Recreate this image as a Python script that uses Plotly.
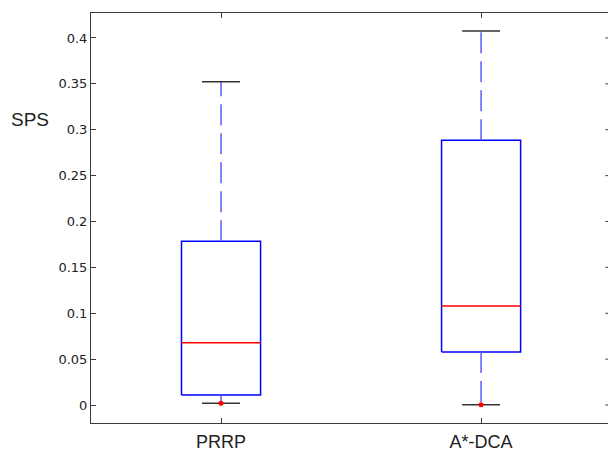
import plotly.graph_objects as go

# ---- data ----
categories = ["PRRP", "A*-DCA"]
positions = [1, 2]
lower_whisker = [0.0018, 0.0003]
q1 = [0.0109, 0.0578]
median = [0.0679, 0.1079]
q3 = [0.1784, 0.2885]
upper_whisker = [0.3524, 0.4076]
outliers = [[0.0018], [0.0003]]

y_tickvals = [0, 0.05, 0.1, 0.15, 0.2, 0.25, 0.3, 0.35, 0.4]
y_ticktext = ["0", "0.05", "0.1", "0.15", "0.2", "0.25", "0.3", "0.35", "0.4"]

# ---- styles ----
BOX_HW = 0.152
CAP_HW = 0.073
AX_COL = "#3a3a3a"

fig = go.Figure()

for i, x in enumerate(positions):
    # box
    fig.add_trace(go.Scatter(
        x=[x - BOX_HW, x + BOX_HW, x + BOX_HW, x - BOX_HW, x - BOX_HW],
        y=[q1[i], q1[i], q3[i], q3[i], q1[i]],
        mode="lines", line=dict(color="#0000ff", width=1.5),
        hoverinfo="skip", showlegend=False))
    # median
    fig.add_trace(go.Scatter(
        x=[x - BOX_HW, x + BOX_HW], y=[median[i], median[i]],
        mode="lines", line=dict(color="#ff0000", width=1.5),
        hoverinfo="skip", showlegend=False))
    # whiskers (from box outward)
    fig.add_trace(go.Scatter(
        x=[x, x], y=[q3[i], upper_whisker[i]],
        mode="lines", line=dict(color="#5a5aff", width=1.5, dash="21px,8px"),
        hoverinfo="skip", showlegend=False))
    fig.add_trace(go.Scatter(
        x=[x, x], y=[q1[i], lower_whisker[i]],
        mode="lines", line=dict(color="#5a5aff", width=1.5, dash="21px,8px"),
        hoverinfo="skip", showlegend=False))
    # caps
    for v in (upper_whisker[i], lower_whisker[i]):
        fig.add_trace(go.Scatter(
            x=[x - CAP_HW, x + CAP_HW], y=[v, v],
            mode="lines", line=dict(color="#333333", width=1.5),
            hoverinfo="skip", showlegend=False))
    # outliers
    fig.add_trace(go.Scatter(
        x=[x] * len(outliers[i]), y=outliers[i],
        mode="markers", marker=dict(color="#ff0000", size=5),
        hoverinfo="skip", showlegend=False))

# right-side tick stubs (frame is cropped off in the reference)
for v in y_tickvals:
    fig.add_shape(type="line", xref="paper", yref="y",
                  x0=0.995, x1=1.0, y0=v, y1=v,
                  line=dict(color=AX_COL, width=1))

fig.add_annotation(text="SPS", xref="paper", yref="paper",
                   x=-0.118, y=0.741, xanchor="center", yanchor="middle",
                   showarrow=False,
                   font=dict(family="Liberation Sans", size=19, color="#222222"))

fig.update_layout(
    width=608, height=452,
    margin=dict(l=91, r=0, t=13, b=29, autoexpand=False),
    paper_bgcolor="white", plot_bgcolor="white",
    font=dict(family="Liberation Sans", size=13, color="#222222"),
    showlegend=False,
)
fig.update_xaxes(
    range=[0.5, 2.488], tickvals=positions, ticktext=categories,
    showgrid=False, zeroline=False, automargin=False,
    showline=True, linecolor=AX_COL, linewidth=1, mirror="ticks",
    ticks="inside", ticklen=5, tickcolor=AX_COL, tickwidth=1,
    tickfont=dict(family="Liberation Sans", size=18),
    ticklabelstandoff=2,
)
fig.update_yaxes(
    range=[-0.0196, 0.4272], tickvals=y_tickvals, ticktext=y_ticktext,
    showgrid=False, zeroline=False, automargin=False,
    showline=True, linecolor=AX_COL, linewidth=1, mirror=False,
    ticks="inside", ticklen=5, tickcolor=AX_COL, tickwidth=1,
    tickfont=dict(family="DejaVu Sans", size=13),
    ticklabelstandoff=0,
)

fig.write_html(
    "out.html",
    config={"displayModeBar": False},
    post_script="document.body.style.margin='0';document.body.style.overflow='hidden';",
)
